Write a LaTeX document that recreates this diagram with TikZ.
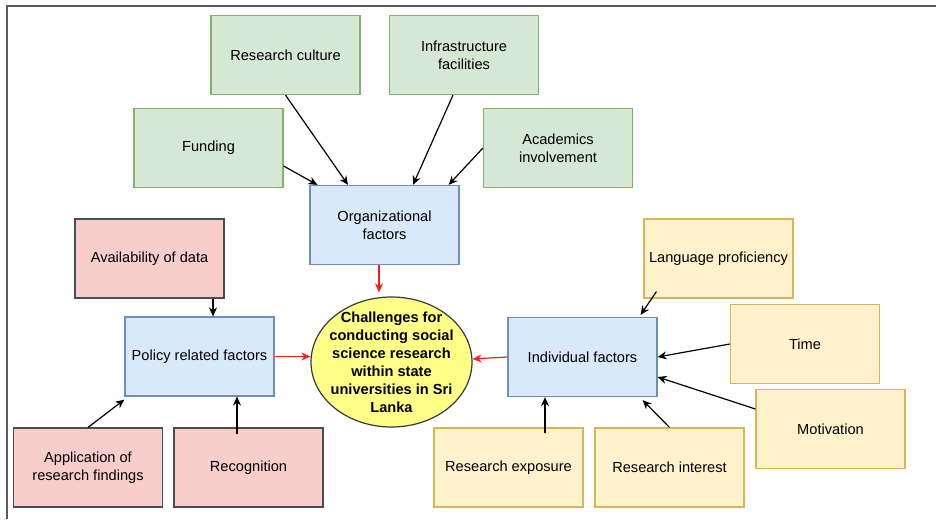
\documentclass[tikz,border=0pt]{standalone}
\usepackage{fontspec}
\setmainfont{Liberation Sans}
\usetikzlibrary{arrows.meta,shapes.geometric}
\definecolor{gfill}{HTML}{D5E8D4}\definecolor{gline}{HTML}{82B366}
\definecolor{bfill}{HTML}{DAE8FC}\definecolor{bline}{HTML}{6C8EBF}
\definecolor{pfill}{HTML}{F8CECC}\definecolor{pline}{HTML}{4D4D4D}
\definecolor{yfill}{HTML}{FFF2CC}\definecolor{yline}{HTML}{D6B656}
\definecolor{efill}{HTML}{FFFF88}\definecolor{eline}{HTML}{36393D}
\definecolor{redar}{HTML}{FF1A1A}
\tikzset{
  box/.style={rectangle, minimum width=149pt, minimum height=79pt, inner sep=2pt,
    align=center, line width=1.2pt, font=\fontsize{14.6}{18}\selectfont},
  gbox/.style={box, draw=gline, fill=gfill},
  bbox/.style={box, draw=bline, fill=bfill},
  pbox/.style={box, draw=pline, fill=pfill},
  ybox/.style={box, draw=yline, fill=yfill},
  arr/.style={-{Stealth[length=9pt,width=8pt]}, line width=1.2pt, black},
  rarr/.style={-{Stealth[length=9pt,width=8pt]}, line width=1.2pt, redar},
}
\begin{document}
\begin{tikzpicture}[x=1pt,y=-1pt]
\useasboundingbox (0,0) rectangle (936,519);
\fill[white] (0,0) rectangle (936,519);
\draw[line width=2pt, gray!70!black] (7,519) -- (7,6) -- (936,6);

\node[gbox] (rc) at (285.5,55) {Research culture};
\node[gbox] (infra) at (464,55) {Infrastructure\\facilities};
\node[gbox] (fund) at (208.5,148) {Funding};
\node[gbox] (acad) at (558,148) {Academics\\involvement};
\node[bbox] (org) at (384.5,225) {Organizational\\factors};

\node[pbox] (avail) at (149.5,258.5) {Availability of data};
\node[bbox] (policy) at (199.5,356.5) {Policy related factors};
\node[pbox] (app) at (88,467.5) {Application of\\research findings};
\node[pbox] (rec) at (248.5,467.5) {Recognition};

\node[ybox] (lang) at (718.5,258.5) {Language proficiency};
\node[ybox] (time) at (805,344) {Time};
\node[bbox] (ind) at (582.5,357) {Individual factors};
\node[ybox] (mot) at (830.5,429) {Motivation};
\node[ybox] (exp) at (508.5,467.5) {Research exposure};
\node[ybox] (int) at (669.5,467.5) {Research interest};

\node[ellipse, draw=eline, fill=efill, line width=1.2pt, minimum width=161pt,
  minimum height=130pt, inner sep=0pt] (ch) at (391.5,362) {};
\node[align=center, font=\bfseries\fontsize{14.6}{18}\selectfont] (cht) at (ch.center)
  {Challenges for\\conducting social\\science research\\within state\\universities in Sri\\Lanka};

% organizational
\draw[arr] ([yshift=-18pt]fund.east) -- ([xshift=8pt]org.north west);
\draw[arr] (rc.south) -- ([xshift=-36.5pt]org.north);
\draw[arr] ([xshift=-11pt]infra.south) -- ([xshift=28.5pt]org.north);
\draw[arr] (acad.west) -- ([xshift=-11pt]org.north east);
\draw[rarr] ([xshift=-5.5pt]org.south) -- ([xshift=-12.5pt,yshift=4pt]ch.north);

% policy
\draw[arr] ([xshift=63.5pt]avail.south) -- ([xshift=13.5pt]policy.north);
\draw[rarr] (policy.east) -- (policy.east -| ch.west);
\draw[arr] (app.north) -- ([yshift=-3pt]policy.south west);
\draw[arr] ([xshift=-11.5pt,yshift=-7pt]rec.north) -- ([xshift=37.5pt]policy.south);

% individual
\draw[rarr] (ind.west) -- ([yshift=3pt]ch.east);
\draw[arr] ([xshift=13pt,yshift=7pt]lang.south west) -- ([xshift=-17pt,yshift=2pt]ind.north east);
\draw[arr] (time.west) -- (ind.east);
\draw[arr] ([yshift=20pt]mot.west) -- ([yshift=-20pt]ind.east);
\draw[arr] ([xshift=36.5pt,yshift=-6pt]exp.north) -- ([xshift=-37.5pt]ind.south);
\draw[arr] (int.north) -- ([xshift=-15pt,yshift=-3pt]ind.south east);
\end{tikzpicture}
\end{document}
